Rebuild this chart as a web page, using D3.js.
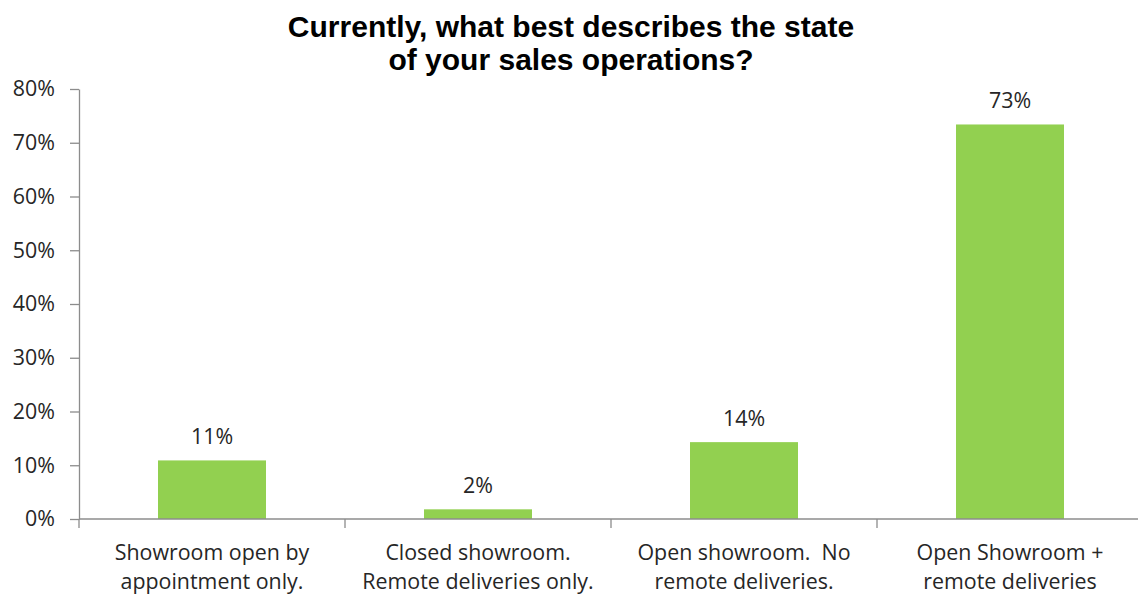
<!DOCTYPE html>
<html>
<head>
<meta charset="utf-8">
<script src="https://cdn.jsdelivr.net/npm/d3@7"></script>
<style>
  html, body { margin: 0; padding: 0; background: #fff; }
  svg { display: block; }
</style>
</head>
<body>
<svg id="chart" width="1138" height="596"></svg>
<script>
// Survey answers and their shares
const categories = [
  ["Showroom open by", "appointment only."],
  ["Closed showroom.", "Remote deliveries only."],
  ["Open showroom.  No", "remote deliveries."],
  ["Open Showroom +", "remote deliveries"]
];
const shares = [0.109, 0.018, 0.143, 0.734];
const yTicks = [0, 0.1, 0.2, 0.3, 0.4, 0.5, 0.6, 0.7, 0.8];
const titleLines = ["Currently, what best describes the state", "of your sales operations?"];

const svg = d3.select("#chart");
const H = 596;
const margin = { top: 89, left: 79, bottom: 77 };
const plotRight = 1143;

const bodyFont = "'Open Sans', sans-serif";
const bodySize = 21.4;
const textColor = "#262626";
const axisColor = "#8c8c8c";
const barColor = "#92d050";

const keys = categories.map((c, i) => i);
const barPad = 0.594;
const x = d3.scaleBand()
  .domain(keys)
  .range([margin.left, plotRight])
  .paddingInner(barPad)
  .paddingOuter(barPad / 2);
const step = x.step();

const y = d3.scaleLinear()
  .domain([0, 0.8])
  .range([H - margin.bottom, margin.top]);

// Title
svg.append("g")
  .selectAll("text")
  .data(titleLines)
  .join("text")
  .attr("x", 571)
  .attr("y", (d, i) => 36.5 + i * 33.5)
  .attr("text-anchor", "middle")
  .attr("font-family", "'Liberation Sans', Arial, sans-serif")
  .attr("font-weight", "bold")
  .attr("font-size", 30)
  .attr("fill", "#000")
  .text(d => d);

// Y axis
const yAxis = svg.append("g")
  .attr("transform", `translate(${margin.left},0)`)
  .call(d3.axisLeft(y)
    .tickValues(yTicks)
    .tickFormat(d3.format(".0%"))
    .tickSize(9)
    .tickSizeOuter(0)
    .tickPadding(15));
yAxis.select(".domain").attr("stroke", axisColor).attr("stroke-width", 1.3);
yAxis.selectAll(".tick line").attr("stroke", axisColor).attr("stroke-width", 1.3);
yAxis.selectAll(".tick text")
  .attr("font-family", bodyFont)
  .attr("font-size", bodySize)
  .attr("fill", textColor);

// Bars
svg.append("g")
  .selectAll("rect")
  .data(shares)
  .join("rect")
  .attr("x", (d, i) => x(i))
  .attr("y", d => y(d))
  .attr("width", x.bandwidth())
  .attr("height", d => y(0) - y(d))
  .attr("fill", barColor);

// Value labels
svg.append("g")
  .selectAll("text")
  .data(shares)
  .join("text")
  .attr("x", (d, i) => x(i) + x.bandwidth() / 2)
  .attr("y", d => y(d) - 16)
  .attr("text-anchor", "middle")
  .attr("font-family", bodyFont)
  .attr("font-size", bodySize)
  .attr("fill", textColor)
  .text(d => d3.format(".0%")(d));

// Category axis with tick marks between categories
const x0 = y(0);
const xAxis = svg.append("g");
xAxis.append("line")
  .attr("x1", margin.left).attr("x2", plotRight)
  .attr("y1", x0).attr("y2", x0)
  .attr("stroke", axisColor).attr("stroke-width", 1.3);
xAxis.selectAll("line.tick")
  .data(d3.range(keys.length + 1))
  .join("line")
  .attr("class", "tick")
  .attr("x1", i => margin.left + i * step)
  .attr("x2", i => margin.left + i * step)
  .attr("y1", x0).attr("y2", x0 + 9)
  .attr("stroke", axisColor).attr("stroke-width", 1.3);

const catLabels = xAxis.selectAll("text")
  .data(categories)
  .join("text")
  .attr("text-anchor", "middle")
  .attr("font-family", bodyFont)
  .attr("font-size", bodySize)
  .attr("fill", textColor);
catLabels.selectAll("tspan")
  .data((d, i) => d.map(line => ({ line, i })))
  .join("tspan")
  .attr("x", d => x(d.i) + x.bandwidth() / 2)
  .attr("y", (d, j) => 560 + j * 29)
  .attr("xml:space", "preserve")
  .text(d => d.line);
</script>
</body>
</html>
